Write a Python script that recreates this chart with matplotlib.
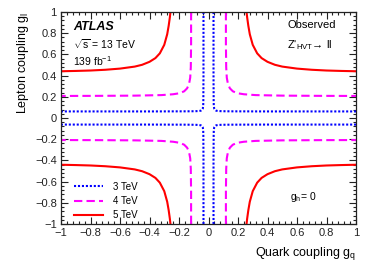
import numpy as np
import matplotlib
matplotlib.use("Agg")
import matplotlib.pyplot as plt
from matplotlib.ticker import MultipleLocator, FuncFormatter

plt.rcParams['font.family'] = ['Liberation Sans', 'DejaVu Sans']
plt.rcParams['mathtext.fontset'] = 'custom'
plt.rcParams['mathtext.rm'] = 'Liberation Sans'
plt.rcParams['mathtext.it'] = 'Liberation Sans:italic'
plt.rcParams['mathtext.bf'] = 'Liberation Sans:bold'

# Observed exclusion contours, one quadrant (gq > 0, gl > 0); the curves are
# symmetric in sign of gq and gl.
gq_3tev = [0.034, 0.034, 0.035, 0.036, 0.039, 0.044, 0.052, 0.065, 0.09, 0.15, 0.4, 1.0]
gl_3tev = [1.0, 0.4, 0.16, 0.11, 0.088, 0.076, 0.069, 0.066, 0.064, 0.063, 0.062, 0.062]

gq_4tev = [0.118, 0.118, 0.120, 0.124, 0.132, 0.145, 0.165, 0.195, 0.24, 0.32, 0.5, 0.75, 1.0]
gl_4tev = [1.0, 0.7, 0.48, 0.38, 0.32, 0.28, 0.252, 0.234, 0.224, 0.216, 0.211, 0.209, 0.208]

gq_5tev = [0.258, 0.262, 0.27, 0.28, 0.30, 0.33, 0.36, 0.40, 0.45, 0.50, 0.60, 0.70, 0.80, 0.90, 1.0]
gl_5tev = [1.0, 0.95, 0.87, 0.79, 0.69, 0.61, 0.565, 0.53, 0.502, 0.485, 0.466, 0.455, 0.448, 0.444, 0.441]

series = [
    ("3 TeV", gq_3tev, gl_3tev, "#0000ff", (1.0, 0.9)),
    ("4 TeV", gq_4tev, gl_4tev, "#ff00ff", (4.0, 2.0)),
    ("5 TeV", gq_5tev, gl_5tev, "#ff0000", None),
]

fig = plt.figure(figsize=(3.74, 2.68), dpi=100)
ax = fig.add_axes([61/374, 1-224/268, 295/374, 212/268])

handles = []
for label, gq, gl, col, dash in series:
    gq = np.asarray(gq)
    gl = np.asarray(gl)
    for sx in (1, -1):
        for sy in (1, -1):
            ln, = ax.plot(sx*gq, sy*gl, color=col, lw=1.5)
            if dash is not None:
                ln.set_dashes(dash)
    h, = ax.plot([], [], color=col, lw=1.5, label=label)
    if dash is not None:
        h.set_dashes(dash)
    handles.append(h)

ax.set_xlim(-1, 1)
ax.set_ylim(-1, 1)

ax.xaxis.set_major_locator(MultipleLocator(0.2))
ax.yaxis.set_major_locator(MultipleLocator(0.2))
ax.xaxis.set_minor_locator(MultipleLocator(0.04))
ax.yaxis.set_minor_locator(MultipleLocator(0.04))

def fmt(v, pos):
    if abs(v) < 1e-9:
        return "0"
    s = ("%.1f" % v).rstrip("0").rstrip(".")
    return s.replace("-", "\u2212")

ax.xaxis.set_major_formatter(FuncFormatter(fmt))
ax.yaxis.set_major_formatter(FuncFormatter(fmt))
ax.tick_params(which='both', direction='in', top=True, right=True,
               labelsize=8, colors='#222222', width=0.8)
ax.tick_params(which='major', length=5, pad=3)
ax.tick_params(which='minor', length=2.5)
for sp in ax.spines.values():
    sp.set_linewidth(0.9)
    sp.set_color('#222222')

ax.set_xlabel(r"Quark coupling g$_\mathregular{q}$", fontsize=9, ha='right', x=1.0, labelpad=5)
ax.set_ylabel(r"Lepton coupling g$_\mathregular{l}$", fontsize=9, ha='right', y=1.0, labelpad=3)

ax.text(0.04, 0.93, "ATLAS", transform=ax.transAxes, fontsize=9,
        fontweight='bold', fontstyle='italic', va='center')
ax.text(0.04, 0.85, r"$\sqrt{\mathregular{s}}$ = 13 TeV", transform=ax.transAxes,
        fontsize=7.5, va='center')
ax.text(0.04, 0.77, r"139 fb$^{\mathregular{-1}}$", transform=ax.transAxes,
        fontsize=7.5, va='center')
ax.text(0.767, 0.94, "Observed", transform=ax.transAxes, fontsize=8, va='center')
ax.text(0.767, 0.845, r"Z'$_{\mathregular{HVT}}$" + "\u2192 ll",
        transform=ax.transAxes, fontsize=8, va='center')
ax.text(0.775, 0.125, r"g$_\mathregular{h}$= 0", transform=ax.transAxes,
        fontsize=7.5, va='center')

leg = ax.legend(handles=handles, loc='lower left', bbox_to_anchor=(0.02, -0.015),
                frameon=False, fontsize=7, handlelength=3.0, handletextpad=1.0,
                labelspacing=0.45, borderaxespad=0.3)

fig.savefig("out.png", dpi=100)
